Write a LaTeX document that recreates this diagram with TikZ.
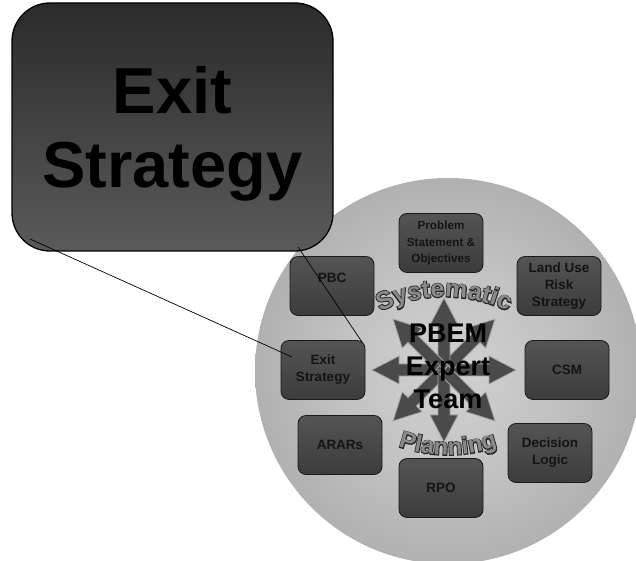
\documentclass[tikz,border=0pt]{standalone}
\usepackage{fontspec}
\setmainfont{Liberation Sans}
\newfontfamily\archthick{Liberation Sans Bold}[FakeBold=7]
\newfontfamily\archthin{Liberation Sans Bold}
\usetikzlibrary{decorations.text,calc}

\definecolor{sphA}{HTML}{D2D2D2}
\definecolor{sphB}{HTML}{C2C2C2}
\definecolor{sphC}{HTML}{A6A6A6}
\definecolor{sphD}{HTML}{8E8E8E}
\definecolor{sphE}{HTML}{747474}
\definecolor{bigtop}{HTML}{2B2B2B}
\definecolor{bigbot}{HTML}{5A5A5A}
\definecolor{boxtop}{HTML}{545454}
\definecolor{boxbot}{HTML}{3C3C3C}
\definecolor{boxline}{HTML}{1A1A1A}
\definecolor{boxtext}{HTML}{141414}
\definecolor{arrowgray}{HTML}{4A4A4A}
\definecolor{arrowedge}{HTML}{A4A4A4}
\definecolor{archfill}{HTML}{8A8A8A}
\definecolor{archline}{HTML}{262626}

% sphere: light core, darker rim, soft fade into the page
\pgfdeclareradialshading{sphereshade}{\pgfpoint{0bp}{0bp}}{%
  color(0bp)=(sphA); color(14bp)=(sphB); color(32bp)=(sphC);
  color(43bp)=(sphD); color(48.3bp)=(sphE); color(50bp)=(white);
  color(100bp)=(white)}

% curved captions: a thick dark pass under a grey pass
\newcommand\archdark{\fontsize{25}{25}\archthick\color{archline}}
\newcommand\archlight{\fontsize{25}{25}\archthin\color{archfill}}
\newcommand\plandark{\fontsize{24}{24}\archthick\color{archline}}
\newcommand\planlight{\fontsize{24}{24}\archthin\color{archfill}}

\tikzset{
  stepbox/.style={draw=boxline, line width=0.8pt, rounded corners=8pt,
    minimum width=84pt, minimum height=59pt, inner sep=1pt,
    top color=boxtop, bottom color=boxbot, text=boxtext, align=center,
    font=\fontsize{13.5}{17}\selectfont\bfseries},
  bigbox/.style={draw=black, line width=1.3pt, rounded corners=38pt,
    minimum width=321pt, minimum height=248pt, inner sep=0pt,
    top color=bigtop, bottom color=bigbot},
  bigcaption/.style={text=black, align=center, inner sep=0pt,
    font=\fontsize{65}{74}\selectfont\bfseries},
  teamcaption/.style={text=black, align=center, inner sep=0pt,
    font=\fontsize{27}{33}\selectfont\bfseries},
  starray/.style={fill=arrowgray, draw=arrowedge, line width=0.8pt, line join=miter},
  leader/.style={draw=black, line width=0.7pt},
  topcurve/.style={decorate, decoration={text along path, text align=center, text={#1}}},
}

\begin{document}
\begin{tikzpicture}[x=1pt, y=1pt]
\clip (0,0) rectangle (636,561);
\fill[white] (0,0) rectangle (636,561);

% the sphere
\path[shading=sphereshade] (448,190) circle[radius=193];

% eight-way star
\coordinate (hub) at (444,191);
\foreach \a in {0,45,...,315}{
  \draw[starray, rotate around={\a:(hub)}]
    ($(hub)+(0,-6)$) -- ++(45,0) -- ++(0,-8) -- ++(27,14)
    -- ++(-27,14) -- ++(0,-8) -- ++(-45,0) -- cycle;
}

% curved captions
\path[topcurve={|\archdark|Systematic}]
  (444,114) ++(140:150) arc[start angle=140, end angle=40, radius=150];
\path[topcurve={|\archlight|Systematic}]
  (444,114) ++(140:150) arc[start angle=140, end angle=40, radius=150];
\path[topcurve={|\plandark|Planning}]
  (448,256) ++(240:150) arc[start angle=240, end angle=300, radius=150];
\path[topcurve={|\planlight|Planning}]
  (448,256) ++(240:150) arc[start angle=240, end angle=300, radius=150];

\node[teamcaption] (team) at (448,195) {PBEM\\Expert\\Team};

% process boxes around the star
\node[stepbox, font=\fontsize{11.7}{16.5}\selectfont\bfseries] (prob) at (441,318)
  {Problem\\Statement \&\\Objectives};
\node[stepbox] (land) at (559,275) {Land Use\\Risk\\Strategy};
\node[stepbox] (pbc)  at (332,275) {\raisebox{3.2pt}[0pt][0pt]{PBC}};
\node[stepbox] (exit) at (323,191) {Exit\\Strategy};
\node[stepbox] (csm)  at (567,191) {CSM};
\node[stepbox] (arar) at (340,116) {ARARs};
\node[stepbox] (dec)  at (550,108) {Decision\\Logic};
\node[stepbox] (rpo)  at (441,73)  {RPO};

% enlarged callout box
\node[bigbox] (big) at (172.5,434) {};
\node[bigcaption] (bigtext) at ($(big.center)+(0,-6.5)$) {Exit\\Strategy};

% callout leaders from the enlarged box to the small one
\coordinate (exitIn) at (292,204);
\coordinate (exitCorner) at (362,219);
\coordinate (bigFoot) at (30,322);
\coordinate (bigHeel) at (298,314);
\draw[leader] (bigFoot) -- (exitIn);
\draw[leader] (bigHeel) -- (exitCorner);
\end{tikzpicture}
\end{document}
